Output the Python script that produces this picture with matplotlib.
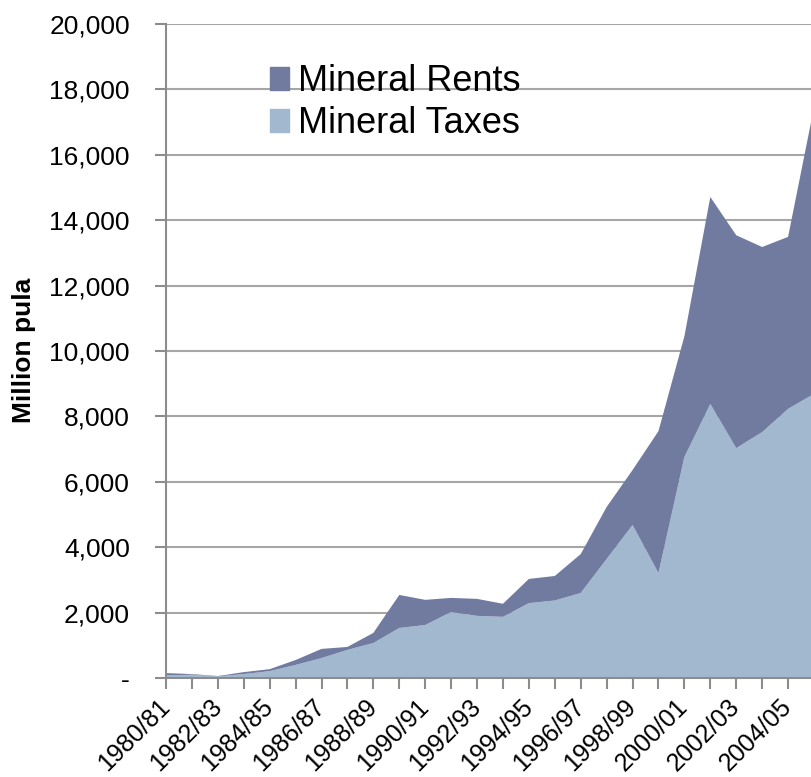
import numpy as np
import matplotlib
matplotlib.use('Agg')
import matplotlib.pyplot as plt
from matplotlib.patches import Patch
from matplotlib.transforms import ScaledTranslation

plt.rcParams['font.family'] = ['Liberation Sans', 'DejaVu Sans']

years = ['1980/81', '1981/82', '1982/83', '1983/84', '1984/85', '1985/86',
         '1986/87', '1987/88', '1988/89', '1989/90', '1990/91', '1991/92',
         '1992/93', '1993/94', '1994/95', '1995/96', '1996/97', '1997/98',
         '1998/99', '1999/00', '2000/01', '2001/02', '2002/03', '2003/04',
         '2004/05', '2005/06']

# million pula
taxes = [80, 100, 50, 120, 210, 400, 610, 860, 1070, 1530, 1620, 2020,
         1900, 1870, 2290, 2370, 2600, 3640, 4680, 3210, 6760, 8380,
         7030, 7520, 8230, 8690]
total = [150, 120, 60, 180, 270, 550, 890, 950, 1380, 2540, 2390, 2450,
         2420, 2270, 3030, 3120, 3790, 5230, 6360, 7550, 10450, 14710,
         13540, 13180, 13490, 17450]
rents = [t - x for t, x in zip(total, taxes)]

c_rents = '#717ba0'
c_taxes = '#a1b8cf'
grey = '#8c8c8c'

W, H = 812, 777
fig = plt.figure(figsize=(W / 100, H / 100), dpi=100)
ax = fig.add_axes([166 / W, (H - 678) / H, (814 - 166) / W, (678 - 24) / H])

x = np.arange(len(years))
ax.stackplot(x, taxes, rents, colors=[c_taxes, c_rents], linewidth=0, zorder=2)

ax.set_xlim(0, len(years) - 1)
ax.set_ylim(0, 20000)
ax.set_yticks(np.arange(0, 20001, 2000))
ax.set_yticklabels(['-'] + ['{:,}'.format(v) for v in range(2000, 20001, 2000)])
ax.yaxis.grid(True, color='#a6a6a6', linewidth=1.5, zorder=1)
ax.set_axisbelow(True)

ax.set_xticks(x)
ax.set_xticklabels([y if i % 2 == 0 else '' for i, y in enumerate(years)],
                   rotation=45, ha='right', va='center', rotation_mode='anchor')
ax.tick_params(axis='both', direction='out', length=8, width=1.5, color=grey)
ax.tick_params(axis='y', labelsize=19, pad=18)
ax.tick_params(axis='x', labelsize=18, pad=12)
# nudge the slanted year labels like the original
shift = ScaledTranslation(0, 3 / 100, fig.dpi_scale_trans)
for lbl in ax.get_xticklabels():
    lbl.set_transform(lbl.get_transform() + shift)

for s in ['top', 'right']:
    ax.spines[s].set_visible(False)
for s in ['left', 'bottom']:
    ax.spines[s].set_color(grey)
    ax.spines[s].set_linewidth(1.5)

ax.set_ylabel('Million pula', fontsize=19, fontweight='bold')
ax.yaxis.set_label_coords(-130 / 648, (678 - 350) / 654)

handles = [Patch(color=c_rents, label='Mineral Rents'),
           Patch(color=c_taxes, label='Mineral Taxes')]
ax.legend(handles=handles, loc='upper left', bbox_to_anchor=(104 / 648, (678 - 64) / 654),
          frameon=False, fontsize=26, handlelength=0.53, handleheight=0.6,
          handletextpad=0.25, labelspacing=0.2, borderpad=0, borderaxespad=0)

fig.savefig('out.png', dpi=100)
